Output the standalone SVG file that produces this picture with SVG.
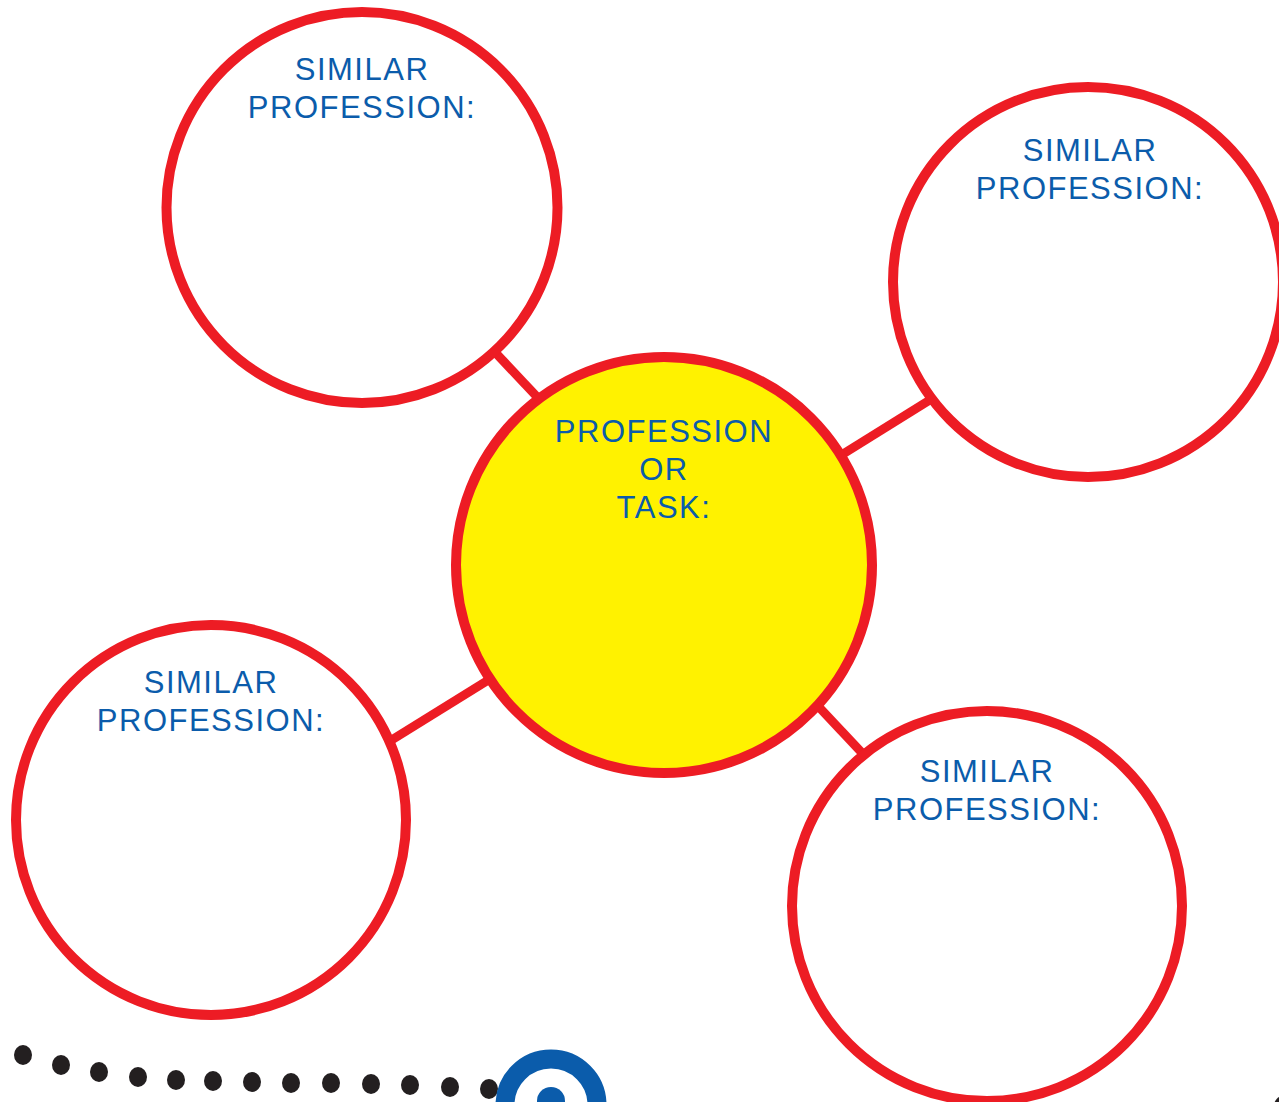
<svg xmlns="http://www.w3.org/2000/svg" width="1279" height="1102" viewBox="0 0 1279 1102">
  <style>
    .ring { fill: #ffffff; stroke: #ed1c24; stroke-width: 10; }
    .hub { fill: #fff200; stroke: #ed1c24; stroke-width: 10; }
    .link { stroke: #ed1c24; stroke-width: 9; fill: none; }
    .label { font-family: "Liberation Sans", Arial, sans-serif; font-size: 31px; fill: #0b5cab; text-anchor: middle; letter-spacing: 1.5px; }
    .dot { fill: #231f20; }
  </style>
  <rect width="1279" height="1102" fill="#ffffff"/>

  <!-- connectors between the hub and the outer circles -->
  <g id="connectors">
    <line class="link" x1="492" y1="349" x2="540" y2="400"/>
    <line class="link" x1="843" y1="454" x2="933" y2="398"/>
    <line class="link" x1="390" y1="741" x2="490" y2="679"/>
    <line class="link" x1="817" y1="705" x2="864" y2="755"/>
  </g>

  <g id="hub">
    <circle class="hub" cx="664" cy="565" r="208"/>
    <text class="label" x="664" y="442">PROFESSION</text>
    <text class="label" x="664" y="480">OR</text>
    <text class="label" x="664" y="518">TASK:</text>
  </g>

  <g id="similar-top-left">
    <circle class="ring" cx="362" cy="207.5" r="195.5"/>
    <text class="label" x="362" y="80">SIMILAR</text>
    <text class="label" x="362" y="118">PROFESSION:</text>
  </g>

  <g id="similar-top-right">
    <circle class="ring" cx="1088" cy="282" r="195"/>
    <text class="label" x="1090" y="161">SIMILAR</text>
    <text class="label" x="1090" y="199">PROFESSION:</text>
  </g>

  <g id="similar-bottom-left">
    <circle class="ring" cx="211" cy="820" r="195"/>
    <text class="label" x="211" y="693">SIMILAR</text>
    <text class="label" x="211" y="731">PROFESSION:</text>
  </g>

  <g id="similar-bottom-right">
    <circle class="ring" cx="987" cy="906" r="195"/>
    <text class="label" x="987" y="782">SIMILAR</text>
    <text class="label" x="987" y="820">PROFESSION:</text>
  </g>

  <!-- dotted trail leading into the target mark -->
  <g id="trail">
    <ellipse class="dot" cx="23" cy="1055" rx="9" ry="10"/>
    <ellipse class="dot" cx="61" cy="1065" rx="9" ry="10"/>
    <ellipse class="dot" cx="99" cy="1072" rx="9" ry="10"/>
    <ellipse class="dot" cx="138" cy="1077" rx="9" ry="10"/>
    <ellipse class="dot" cx="176" cy="1080" rx="9" ry="10"/>
    <ellipse class="dot" cx="213" cy="1081" rx="9" ry="10"/>
    <ellipse class="dot" cx="252" cy="1082" rx="9" ry="10"/>
    <ellipse class="dot" cx="291" cy="1083" rx="9" ry="10"/>
    <ellipse class="dot" cx="331" cy="1083" rx="9" ry="10"/>
    <ellipse class="dot" cx="371" cy="1084" rx="9" ry="10"/>
    <ellipse class="dot" cx="410" cy="1085" rx="9" ry="10"/>
    <ellipse class="dot" cx="450" cy="1087" rx="9" ry="10"/>
    <ellipse class="dot" cx="489" cy="1089" rx="9" ry="10"/>
    <ellipse class="dot" cx="1283" cy="1106" rx="9" ry="10"/>
  </g>

  <g id="target">
    <circle cx="551" cy="1105" r="46" fill="none" stroke="#0b5cab" stroke-width="19"/>
    <circle cx="551" cy="1101" r="14" fill="#0b5cab"/>
  </g>
</svg>
